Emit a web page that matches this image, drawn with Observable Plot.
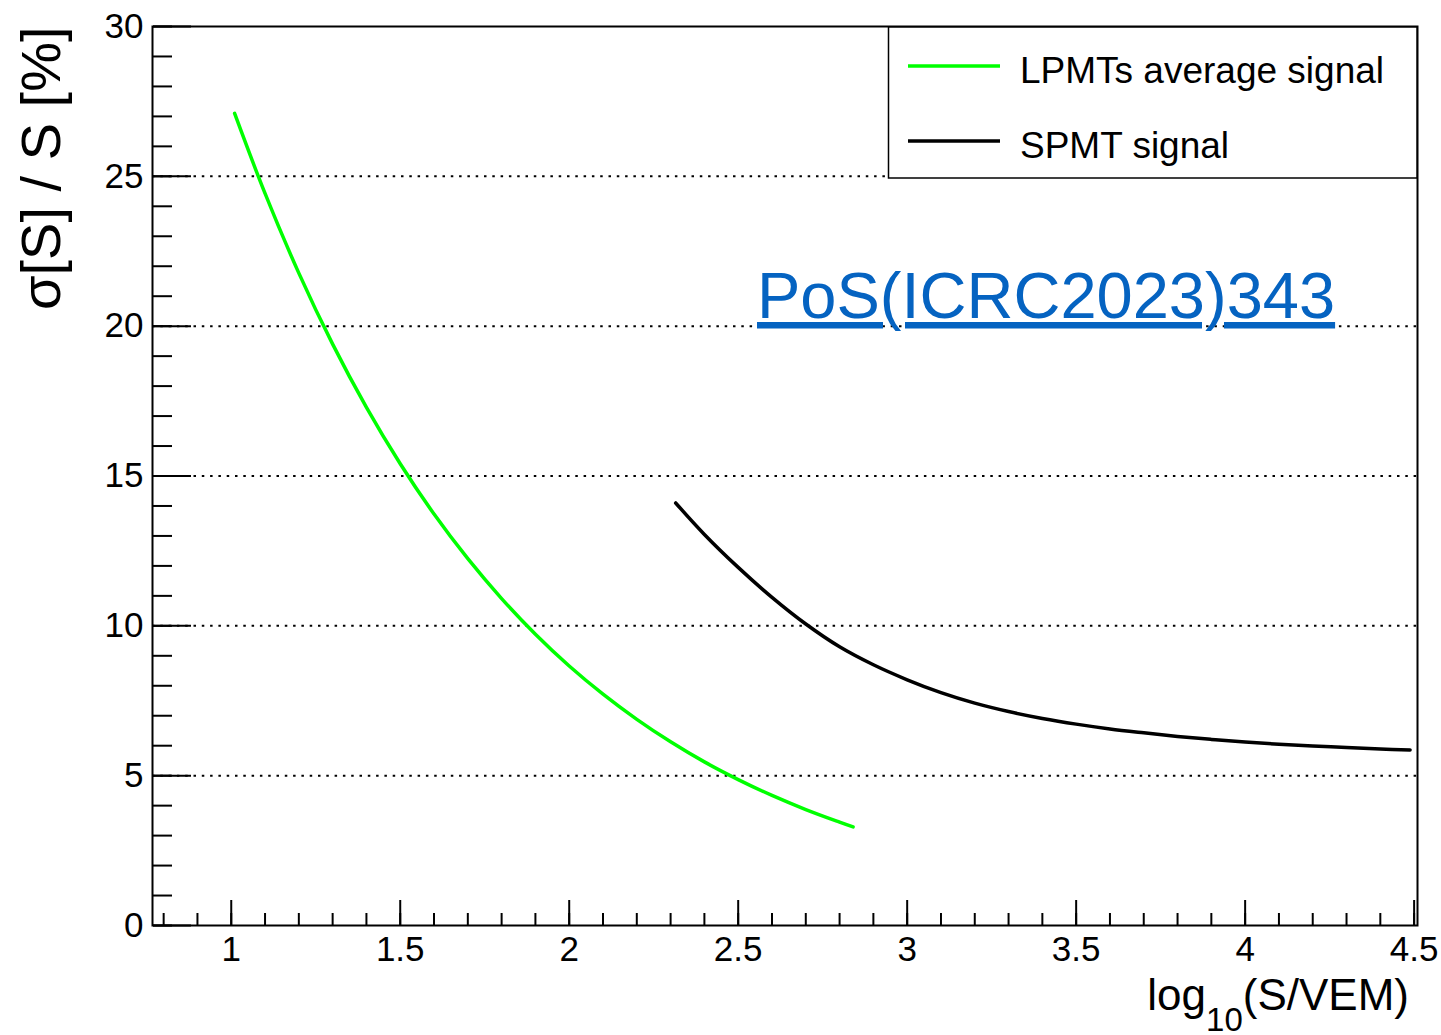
<!DOCTYPE html>
<html>
<head>
<meta charset="utf-8">
<script src="https://cdn.jsdelivr.net/npm/d3@7"></script>
<script src="https://cdn.jsdelivr.net/npm/@observablehq/plot@0.6"></script>
<style>
  html, body { margin: 0; padding: 0; background: #fff; }
  #chart { width: 1441px; height: 1035px; overflow: hidden; }
  #chart svg { display: block; }
</style>
</head>
<body>
<div id="chart"></div>
<script>
// Relative signal resolution σ[S]/S (%) versus log10(S/VEM)

// LPMTs average signal
const lpmtLog   = [1.01, 1.1, 1.2, 1.3, 1.4, 1.5, 1.6, 1.7, 1.8, 1.9, 2.0, 2.1, 2.2, 2.3, 2.4, 2.5, 2.6, 2.7, 2.8, 2.84];
const lpmtSigma = [27.1, 24.43, 21.77, 19.4, 17.29, 15.41, 13.73, 12.24, 10.91, 9.72, 8.66, 7.72, 6.88, 6.13, 5.46, 4.87, 4.34, 3.87, 3.45, 3.29];

// SPMT signal
const spmtLog   = [2.315, 2.4, 2.5, 2.6, 2.7, 2.8, 2.9, 3.0, 3.1, 3.2, 3.3, 3.4, 3.5, 3.6, 3.7, 3.8, 3.9, 4.0, 4.1, 4.2, 4.3, 4.4, 4.488];
const spmtSigma = [14.1, 13.05, 11.95, 10.95, 10.06, 9.3, 8.7, 8.2, 7.77, 7.42, 7.14, 6.91, 6.72, 6.56, 6.43, 6.31, 6.21, 6.12, 6.05, 5.99, 5.94, 5.89, 5.86];

const seriesNames  = ["LPMTs average signal", "SPMT signal"];
const seriesColors = ["#00ff00", "#000000"];

// Axes
const xDomain = [0.767, 4.51];
const yDomain = [0, 30];
const xTickLabels = [1, 1.5, 2, 2.5, 3, 3.5, 4, 4.5];
const xMinorTicks = [0.8, 0.9, 1.0, 1.1, 1.2, 1.3, 1.4, 1.5, 1.6, 1.7, 1.8, 1.9, 2.0, 2.1, 2.2, 2.3, 2.4, 2.5, 2.6, 2.7, 2.8, 2.9,
                     3.0, 3.1, 3.2, 3.3, 3.4, 3.5, 3.6, 3.7, 3.8, 3.9, 4.0, 4.1, 4.2, 4.3, 4.4, 4.5];
const yTickLabels = [0, 5, 10, 15, 20, 25, 30];
const yMinorTicks = [0, 1, 2, 3, 4, 5, 6, 7, 8, 9, 10, 11, 12, 13, 14, 15, 16, 17, 18, 19, 20, 21, 22, 23, 24, 25, 26, 27, 28, 29, 30];
const yGridLines  = [5, 10, 15, 20, 25];

const xTitleMain = "log";
const xTitleSub  = "10";
const xTitleRest = "(S/VEM)";
const yTitle     = "σ[S] / S [%]";
const refText    = "PoS(ICRC2023)343";

const lpmt = lpmtLog.map((x, i) => ({x, y: lpmtSigma[i]}));
const spmt = spmtLog.map((x, i) => ({x, y: spmtSigma[i]}));

const FONT = "'Liberation Sans', Arial, Helvetica, sans-serif";

const plot = Plot.plot({
  width: 1441,
  height: 1035,
  marginLeft: 152,
  marginRight: 24,
  marginTop: 26,
  marginBottom: 110,
  x: {domain: xDomain},
  y: {domain: yDomain},
  style: {fontFamily: FONT, fontSize: "35px", color: "#000", background: "#fff"},
  marks: [
    // dotted horizontal grid
    Plot.gridY(yGridLines, {stroke: "#000", strokeOpacity: 1, strokeWidth: 2, strokeDasharray: "2.5,5.8"}),
    // inward-pointing ticks (ROOT style)
    Plot.axisY({anchor: "right", frameAnchor: "left", ticks: yMinorTicks, tickSize: 19, fill: "none", label: null, strokeWidth: 2}),
    Plot.axisY({anchor: "right", frameAnchor: "left", ticks: yTickLabels, tickSize: 38, fill: "none", label: null, strokeWidth: 2}),
    Plot.axisX({anchor: "top", frameAnchor: "bottom", ticks: xMinorTicks, tickSize: 13, fill: "none", label: null, strokeWidth: 2}),
    Plot.axisX({anchor: "top", frameAnchor: "bottom", ticks: xTickLabels, tickSize: 26, fill: "none", label: null, strokeWidth: 2}),
    // tick labels
    Plot.axisY({ticks: yTickLabels, tickSize: 0, tickPadding: 9, label: null, fontSize: 35, tickFormat: d => String(d)}),
    Plot.axisX({ticks: xTickLabels, tickSize: 0, tickPadding: 11, label: null, fontSize: 35, tickFormat: d => String(d)}),
    // y title
    Plot.text([yTitle], {text: d => d, frameAnchor: "top-left", rotate: -90, textAnchor: "end", dx: -132, fontSize: 56}),
    // curves
    Plot.line(lpmt, {x: "x", y: "y", stroke: seriesColors[0], strokeWidth: 3.5, curve: "catmull-rom"}),
    Plot.line(spmt, {x: "x", y: "y", stroke: seriesColors[1], strokeWidth: 3.5, curve: "catmull-rom"}),
    Plot.frame({stroke: "#000", strokeWidth: 2})
  ]
});

document.getElementById("chart").appendChild(plot);

// Overlay: legend, reference link, x title
const svg = d3.select(plot);

const legend = svg.append("g").attr("font-family", FONT).attr("text-anchor", "start");
legend.append("rect")
  .attr("x", 888.5).attr("y", 27).attr("width", 528.5).attr("height", 151)
  .attr("fill", "#fff").attr("stroke", "#000").attr("stroke-width", 1.5);
const rowY = [66, 141];
seriesNames.forEach((name, i) => {
  legend.append("line")
    .attr("x1", 908).attr("x2", 1000).attr("y1", rowY[i]).attr("y2", rowY[i])
    .attr("stroke", seriesColors[i]).attr("stroke-width", 3.5);
  legend.append("text")
    .attr("x", 1020).attr("y", rowY[i] + 16.5)
    .attr("font-size", 37).attr("fill", "#000")
    .text(name);
});

svg.append("text")
  .attr("x", 757).attr("y", 318)
  .attr("text-anchor", "start")
  .attr("font-family", FONT).attr("font-size", 65)
  .attr("fill", "#0563C1")
  .style("text-decoration", "underline")
  .text(refText);

const xt = svg.append("text")
  .attr("x", 1409).attr("y", 1010)
  .attr("text-anchor", "end")
  .attr("font-family", FONT).attr("font-size", 44).attr("fill", "#000");
xt.append("tspan").text(xTitleMain);
xt.append("tspan").attr("dy", 21).attr("font-size", 33).text(xTitleSub);
xt.append("tspan").attr("dy", -21).text(xTitleRest);
</script>
</body>
</html>
